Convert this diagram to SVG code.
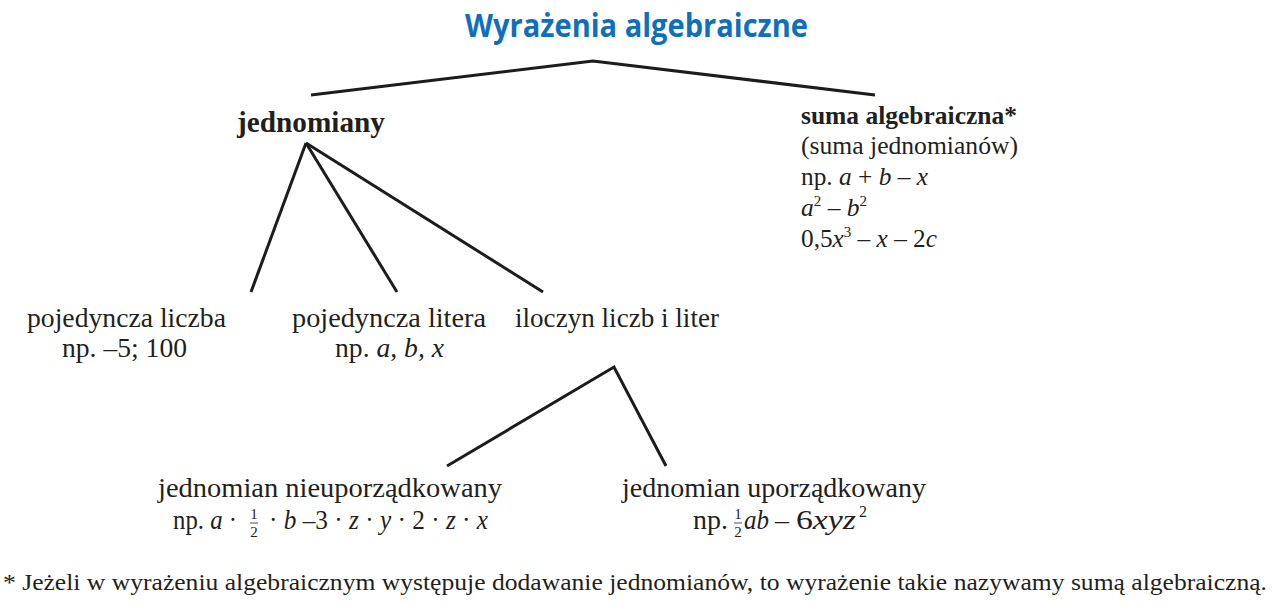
<svg xmlns="http://www.w3.org/2000/svg" width="1280" height="606" viewBox="0 0 1280 606">
<style>
.t{font-family:"Liberation Serif","Times New Roman",serif;fill:#231f20;font-size:28px}
.r{font-size:25.5px}
.b{font-weight:bold}
.i{font-style:italic}
.sup{font-size:15px}
.fn{font-size:23px}
.jb{font-size:29px}
.s16{font-size:16px}
.fr{font-family:"Liberation Serif","Times New Roman",serif;fill:#231f20;font-size:15px;text-anchor:middle}
.title{font-family:"Open Sans","Liberation Sans",sans-serif;font-weight:bold;font-size:32px;fill:#0f6fbd}
.ln{stroke:#1c1c1c;stroke-width:3;fill:none;stroke-linecap:butt;stroke-linejoin:miter}
.bar{stroke:#231f20;stroke-width:0.8}
</style>
<rect width="1280" height="606" fill="#ffffff"/>
<g id="connectors">
<polyline class="ln" points="311,95 593,61 875,95"/>
<line class="ln" x1="306" y1="143" x2="251" y2="292"/>
<line class="ln" x1="306" y1="143" x2="397" y2="292"/>
<line class="ln" x1="306" y1="143" x2="543" y2="292"/>
<polyline class="ln" points="447,466 614,367 666,466"/>
</g>
<g id="node-title">
<text class="title" x="465" y="37" textLength="343" lengthAdjust="spacingAndGlyphs">Wyrażenia algebraiczne</text>
</g>
<g id="node-jednomiany">
<text class="t b jb" x="237" y="132" textLength="148" lengthAdjust="spacingAndGlyphs">jednomiany</text>
</g>
<g id="node-suma">
<text class="t r b" x="801" y="124" textLength="216" lengthAdjust="spacingAndGlyphs">suma algebraiczna*</text>
<text class="t r" x="801" y="154" textLength="217" lengthAdjust="spacingAndGlyphs">(suma jednomianów)</text>
<text class="t r" x="801" y="185" textLength="127" lengthAdjust="spacingAndGlyphs">np. <tspan class="i">a</tspan> + <tspan class="i">b</tspan> – <tspan class="i">x</tspan></text>
<text class="t r" x="801" y="216" textLength="66" lengthAdjust="spacingAndGlyphs"><tspan class="i">a</tspan><tspan class="sup" dy="-10">2</tspan><tspan dy="10"> – </tspan><tspan class="i">b</tspan><tspan class="sup" dy="-10">2</tspan></text>
<text class="t r" x="801" y="247" textLength="136" lengthAdjust="spacingAndGlyphs">0,5<tspan class="i">x</tspan><tspan class="sup" dy="-10">3</tspan><tspan dy="10"> – </tspan><tspan class="i">x</tspan> – 2<tspan class="i">c</tspan></text>
</g>
<g id="node-liczba">
<text class="t" x="27" y="327" textLength="199" lengthAdjust="spacingAndGlyphs">pojedyncza liczba</text>
<text class="t" x="62" y="357" textLength="125" lengthAdjust="spacingAndGlyphs">np. –5; 100</text>
</g>
<g id="node-litera">
<text class="t" x="292" y="327" textLength="194" lengthAdjust="spacingAndGlyphs">pojedyncza litera</text>
<text class="t" x="335" y="357" textLength="109" lengthAdjust="spacingAndGlyphs">np. <tspan class="i">a</tspan>, <tspan class="i">b</tspan>, <tspan class="i">x</tspan></text>
</g>
<g id="node-iloczyn">
<text class="t" x="515" y="327" textLength="204" lengthAdjust="spacingAndGlyphs">iloczyn liczb i liter</text>
</g>
<g id="node-nieuporzadkowany">
<text class="t" x="158" y="497" textLength="344" lengthAdjust="spacingAndGlyphs">jednomian nieuporządkowany</text>
<text class="t" x="173" y="529" textLength="64" lengthAdjust="spacingAndGlyphs">np. <tspan class="i">a</tspan> ·</text>
<text class="fr" x="254" y="519">1</text>
<line class="bar" x1="250" y1="523" x2="258" y2="523"/>
<text class="fr" x="254" y="537">2</text>
<text class="t" x="269" y="529" textLength="219" lengthAdjust="spacingAndGlyphs">· <tspan class="i">b</tspan> –3 · <tspan class="i">z</tspan> · <tspan class="i">y</tspan> · 2 · <tspan class="i">z</tspan> · <tspan class="i">x</tspan></text>
</g>
<g id="node-uporzadkowany">
<text class="t" x="622" y="497" textLength="304" lengthAdjust="spacingAndGlyphs">jednomian uporządkowany</text>
<text class="t" x="693" y="529">np.</text>
<text class="fr" x="738" y="519">1</text>
<line class="bar" x1="734" y1="523" x2="742" y2="523"/>
<text class="fr" x="738" y="537">2</text>
<text class="t i" x="744" y="529" textLength="25" lengthAdjust="spacingAndGlyphs">ab</text>
<text class="t" x="775" y="529">–</text>
<text class="t" x="796" y="529" textLength="60" lengthAdjust="spacingAndGlyphs">6<tspan class="i">xyz</tspan></text>
<text class="t s16" x="859" y="517">2</text>
</g>
<g id="footnote">
<text class="t fn" x="3" y="590" textLength="1264" lengthAdjust="spacingAndGlyphs">* Jeżeli w wyrażeniu algebraicznym występuje dodawanie jednomianów, to wyrażenie takie nazywamy sumą algebraiczną.</text>
</g>
</svg>
